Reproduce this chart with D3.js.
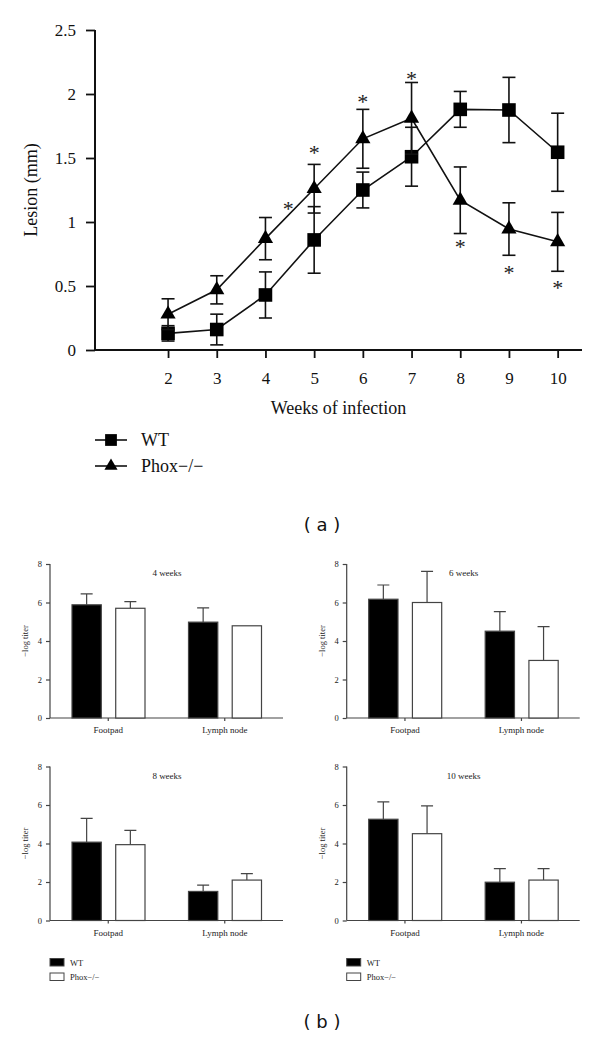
<!DOCTYPE html>
<html><head><meta charset="utf-8">
<script src="https://cdn.jsdelivr.net/npm/d3@7"></script>
<style>
html,body{margin:0;padding:0;background:#fff;}
svg{display:block;}
</style></head>
<body>
<svg id="chart" width="600" height="1038"></svg>
<script>
// ---------- Data: panel (a) ----------
const weeks = [2, 3, 4, 5, 6, 7, 8, 9, 10];
const wtMean = [0.13, 0.16, 0.43, 0.86, 1.25, 1.51, 1.88, 1.875, 1.545];
const wtErr = [0.06, 0.12, 0.18, 0.26, 0.14, 0.23, 0.14, 0.255, 0.305];
const phoxMean = [0.28, 0.47, 0.87, 1.26, 1.65, 1.81, 1.17, 0.945, 0.845];
const phoxErr = [0.12, 0.11, 0.165, 0.19, 0.23, 0.28, 0.26, 0.205, 0.23];
const lesionTicks = [0, 0.5, 1, 1.5, 2, 2.5];
const lesionTickLabels = ["0", "0.5", "1", "1.5", "2", "2.5"];
const starWeeks = [4.47, 5, 6, 7, 8, 9, 10];
const starValues = [1.14, 1.58, 1.98, 2.16, 0.84, 0.64, 0.52];
const seriesNames = ["WT", "Phox\u2212/\u2212"];

// ---------- Data: panel (b) ----------
const panelTitles = ["4 weeks", "6 weeks", "8 weeks", "10 weeks"];
const tissues = ["Footpad", "Lymph node"];
const wtTiter = [[5.88, 4.98], [6.17, 4.51], [4.07, 1.51], [5.26, 1.99]];
const wtTiterErr = [[0.57, 0.74], [0.74, 1.02], [1.24, 0.33], [0.90, 0.70]];
const phoxTiter = [[5.70, 4.79], [6.00, 2.99], [3.94, 2.10], [4.51, 2.10]];
const phoxTiterErr = [[0.35, 0], [1.62, 1.76], [0.74, 0.33], [1.44, 0.59]];
const titerTicks = [0, 2, 4, 6, 8];

const svg = d3.select("#chart");
const SERIF = "'Liberation Serif', 'DejaVu Serif', serif";

// ================= Panel (a) =================
const x = d3.scaleLinear().domain([0.5, 10.5]).range([95, 582]);
const y = d3.scaleLinear().domain([0, 2.5]).range([350, 30]);

const gA = svg.append("g");
const yAx = gA.append("g").attr("transform", "translate(95,0)")
  .call(d3.axisLeft(y).tickValues(lesionTicks).tickFormat((d, i) => lesionTickLabels[i]).tickSize(9).tickPadding(10));
const xAx = gA.append("g").attr("transform", "translate(0,350)")
  .call(d3.axisBottom(x).tickValues(weeks).tickFormat(d3.format("d")).tickSize(8).tickPadding(14));
[yAx, xAx].forEach(ax => {
  ax.select(".domain").attr("stroke", "#111").attr("stroke-width", 2);
  ax.selectAll(".tick line").attr("stroke", "#111").attr("stroke-width", 1.8);
  ax.selectAll(".tick text").attr("font-family", SERIF).attr("font-size", 17).attr("fill", "#111");
});
yAx.select(".domain").attr("d", `M0,${y(2.5)}V${y(0)}`);
xAx.select(".domain").attr("d", `M${x(0.5)},0H${x(10.5)}`);

gA.append("text").attr("transform", `translate(33,${y(1.25)}) rotate(-90)`)
  .attr("text-anchor", "middle").attr("dominant-baseline", "middle")
  .attr("font-family", SERIF).attr("font-size", 18).attr("fill", "#111").text("Lesion (mm)");
gA.append("text").attr("x", (x(0.5) + x(10.5)) / 2).attr("y", 414)
  .attr("text-anchor", "middle")
  .attr("font-family", SERIF).attr("font-size", 18).attr("fill", "#111").text("Weeks of infection");

const series = [
  { mean: wtMean, err: wtErr, symbol: d3.symbolSquare, size: 185 },
  { mean: phoxMean, err: phoxErr, symbol: d3.symbolTriangle, size: 100 }
];
const line = d3.line().x(d => x(d[0])).y(d => y(d[1]));
series.forEach(s => {
  const pts = weeks.map((w, i) => [w, s.mean[i], s.err[i]]);
  const g = gA.append("g");
  g.append("path").attr("d", line(pts)).attr("fill", "none").attr("stroke", "#111").attr("stroke-width", 1.6);
  const eb = g.selectAll(".eb").data(pts).enter().append("g");
  eb.append("line").attr("x1", d => x(d[0])).attr("x2", d => x(d[0]))
    .attr("y1", d => y(d[1] - d[2])).attr("y2", d => y(d[1] + d[2]))
    .attr("stroke", "#111").attr("stroke-width", 1.6);
  [-1, 1].forEach(sg => {
    eb.append("line").attr("x1", d => x(d[0]) - 6.5).attr("x2", d => x(d[0]) + 6.5)
      .attr("y1", d => y(d[1] + sg * d[2])).attr("y2", d => y(d[1] + sg * d[2]))
      .attr("stroke", "#111").attr("stroke-width", 1.6);
  });
  g.selectAll(".m").data(pts).enter().append("path")
    .attr("transform", d => `translate(${x(d[0])},${y(d[1])})`)
    .attr("d", d3.symbol().type(s.symbol).size(s.size)).attr("fill", "#000");
});
gA.selectAll(".star").data(starWeeks.map((w, i) => [w, starValues[i]])).enter().append("text")
  .attr("x", d => x(d[0])).attr("y", d => y(d[1]) + 12)
  .attr("text-anchor", "middle").attr("font-family", SERIF).attr("font-size", 22).attr("fill", "#222")
  .text("*");

series.forEach((s, i) => {
  const ly = 440 + i * 26;
  gA.append("line").attr("x1", 95).attr("x2", 127).attr("y1", ly).attr("y2", ly)
    .attr("stroke", "#111").attr("stroke-width", 1.6);
  gA.append("path").attr("transform", `translate(111,${ly})`)
    .attr("d", d3.symbol().type(s.symbol).size(s.size * 0.75)).attr("fill", "#000");
  gA.append("text").attr("x", 141).attr("y", ly + 6)
    .attr("font-family", SERIF).attr("font-size", 18).attr("fill", "#111").text(seriesNames[i]);
});
svg.append("text").attr("x", 322).attr("y", 531).attr("text-anchor", "middle")
  .attr("font-family", "'DejaVu Sans', sans-serif").attr("font-size", 18).attr("fill", "#111")
  .text("( a )");

// ================= Panel (b) =================
const panelPos = [[50, 564], [346.7, 564], [50, 766.5], [346.7, 766.5]];
const PW = 233, PH = 154;
const GRAY = "#444";
const SMALL = 8.5;

panelPos.forEach((pos, p) => {
  const [px, py] = pos;
  const g = svg.append("g");
  const yb = d3.scaleLinear().domain([0, 8]).range([py + PH, py]);
  const xb = d3.scaleBand().domain(tissues).range([px, px + PW]).padding(0);
  const xs = d3.scaleBand().domain(seriesNames).range([22, 95]).paddingInner(0.33).paddingOuter(0);

  const ya = g.append("g").attr("transform", `translate(${px},0)`)
    .call(d3.axisLeft(yb).tickValues(titerTicks).tickSize(4).tickPadding(4));
  const xa = g.append("g").attr("transform", `translate(0,${py + PH})`)
    .call(d3.axisBottom(xb).tickSize(3).tickPadding(6));
  [ya, xa].forEach(ax => {
    ax.select(".domain").attr("stroke", GRAY).attr("stroke-width", 1.2);
    ax.selectAll(".tick line").attr("stroke", GRAY).attr("stroke-width", 1.2);
    ax.selectAll(".tick text").attr("font-family", SERIF).attr("font-size", SMALL).attr("fill", "#222");
  });
  ya.select(".domain").attr("d", `M0,${py}V${py + PH}`);
  xa.select(".domain").attr("d", `M${px},0H${px + PW}`);
  xa.selectAll(".tick text").attr("font-size", 9);

  g.append("text").attr("transform", `translate(${px - 24},${py + PH / 2}) rotate(-90)`)
    .attr("text-anchor", "middle").attr("dominant-baseline", "middle")
    .attr("font-family", SERIF).attr("font-size", SMALL).attr("fill", "#222").text("\u2212log titer");
  g.append("text").attr("x", px + 117).attr("y", py + 12).attr("text-anchor", "middle")
    .attr("font-family", SERIF).attr("font-size", 9).attr("fill", "#222").text(panelTitles[p]);

  const rows = [];
  tissues.forEach((t, ti) => {
    rows.push({ t, s: seriesNames[0], v: wtTiter[p][ti], e: wtTiterErr[p][ti], fill: "#000" });
    rows.push({ t, s: seriesNames[1], v: phoxTiter[p][ti], e: phoxTiterErr[p][ti], fill: "#fff" });
  });
  const bx = d => xb(d.t) + xs(d.s);
  g.selectAll(".e").data(rows.filter(d => d.e > 0)).enter().append("path")
    .attr("d", d => {
      const cx = bx(d) + xs.bandwidth() / 2;
      return `M${cx},${yb(d.v)}V${yb(d.v + d.e)}M${cx - 6},${yb(d.v + d.e)}H${cx + 6}`;
    })
    .attr("stroke", GRAY).attr("stroke-width", 1.2).attr("fill", "none");
  g.selectAll(".b").data(rows).enter().append("rect")
    .attr("x", d => bx(d)).attr("width", xs.bandwidth())
    .attr("y", d => yb(d.v)).attr("height", d => yb(0) - yb(d.v))
    .attr("fill", d => d.fill).attr("stroke", GRAY).attr("stroke-width", 1.2);

  if (p >= 2) {
    seriesNames.forEach((n, i) => {
      const ly = 958.5 + i * 14.5;
      g.append("rect").attr("x", px).attr("y", ly).attr("width", 14).attr("height", 7.5)
        .attr("fill", i === 0 ? "#000" : "#fff").attr("stroke", GRAY).attr("stroke-width", 1);
      g.append("text").attr("x", px + 20).attr("y", ly + 7)
        .attr("font-family", SERIF).attr("font-size", SMALL).attr("fill", "#222").text(n);
    });
  }
});

svg.append("text").attr("x", 322).attr("y", 1028).attr("text-anchor", "middle")
  .attr("font-family", "'DejaVu Sans', sans-serif").attr("font-size", 18).attr("fill", "#111")
  .text("( b )");
</script>
</body></html>
